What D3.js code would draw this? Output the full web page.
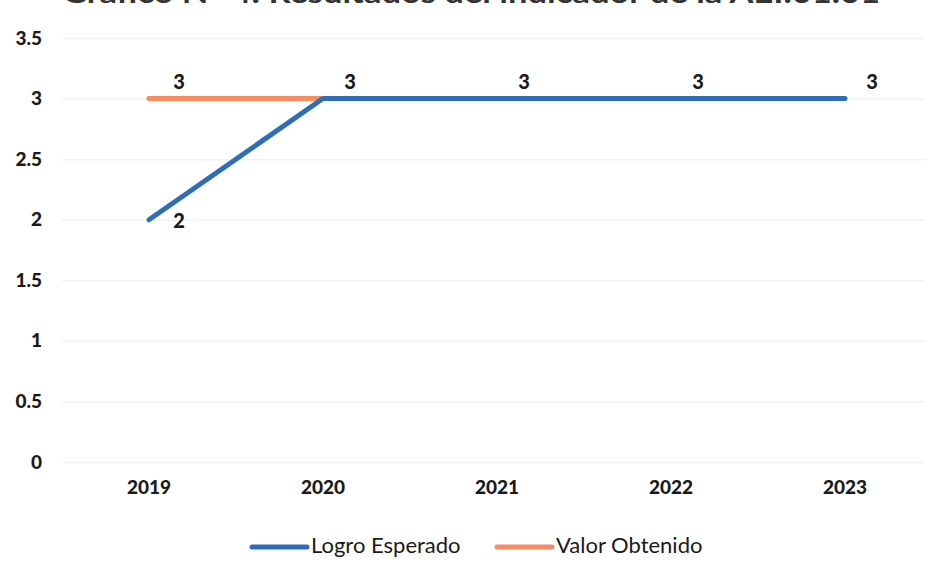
<!DOCTYPE html>
<html><head><meta charset="utf-8">
<script src="https://cdn.jsdelivr.net/npm/d3@7"></script>
<style>body{margin:0;background:#fff}svg{display:block}</style>
</head><body>
<svg id="c" width="945" height="562"></svg>
<script>
const title = "Gráfico N° 4: Resultados del indicador de la AEI.01.01";
const years = ["2019","2020","2021","2022","2023"];
const logroEsperado = [2,3,3,3,3];
const valorObtenido = [3,3,null,null,null];
const yTicks = [0,0.5,1,1.5,2,2.5,3,3.5];
const seriesNames = ["Logro Esperado","Valor Obtenido"];
const colors = ["#2F6DB9","#F58C62"];

const svg = d3.select("#c");
const x = d3.scaleBand().domain(years).range([62,932]);
const y = d3.scaleLinear().domain([0,3.5]).range([462,38]);
const cx = d => x(d) + x.bandwidth()/2;

svg.append("text").attr("x",62).attr("y",3)
  .attr("font-family","Lato").attr("font-weight","bold").attr("font-size",28)
  .attr("textLength",818).attr("lengthAdjust","spacingAndGlyphs")
  .attr("fill","#333").text(title);

const yAxis = d3.axisLeft(y).tickValues(yTicks).tickSize(-(925-62)).tickFormat(d=>d);
const gy = svg.append("g").attr("transform","translate(62,0)").call(yAxis);
gy.select(".domain").remove();
gy.selectAll(".tick line").attr("stroke","#f2f2f2").attr("stroke-width",1.5);
gy.selectAll(".tick text").attr("x",-20).attr("font-family","Lato").attr("font-weight",900)
  .attr("font-size",19).attr("fill","#1a1a1a");

const xAxis = d3.axisBottom(x).tickSize(0);
const gx = svg.append("g").attr("transform","translate(0,470)").call(xAxis);
gx.select(".domain").remove();
gx.selectAll(".tick text").attr("dy","1.1em").attr("font-family","Lato").attr("font-weight",900)
  .attr("font-size",19).attr("fill","#1a1a1a");

const line = d3.line().defined(d=>d.v!=null).x(d=>cx(d.k)).y(d=>y(d.v));
const mk = arr => years.map((k,i)=>({k, v:arr[i]}));
svg.append("path").datum(mk(valorObtenido)).attr("d",line).attr("fill","none")
  .attr("stroke",colors[1]).attr("stroke-width",5).attr("stroke-linecap","round");
svg.append("path").datum(mk(logroEsperado)).attr("d",line).attr("fill","none")
  .attr("stroke",colors[0]).attr("stroke-width",5).attr("stroke-linecap","round").attr("stroke-linejoin","round");

const lab = svg.append("g").attr("font-family","Lato").attr("font-weight",900)
  .attr("font-size",20).attr("fill","#1a1a1a").attr("text-anchor","middle");
mk(logroEsperado).forEach(d=>{
  const below = d.v < 3;
  lab.append("text").attr("x",cx(d.k)+(below?30:27)).attr("y",y(d.v)+(below?3:-15))
    .attr("dominant-baseline","middle").text(d.v);
});
mk(valorObtenido).filter(d=>d.v!=null).slice(0,1).forEach(d=>{
  lab.append("text").attr("x",cx(d.k)+30).attr("y",y(d.v)-15)
    .attr("dominant-baseline","middle").text(d.v);
});

const leg = svg.append("g");
const legX = [252,497];
seriesNames.forEach((n,i)=>{
  leg.append("line").attr("x1",legX[i]).attr("x2",legX[i]+55).attr("y1",547).attr("y2",547)
    .attr("stroke",colors[i]).attr("stroke-width",5).attr("stroke-linecap","round");
  leg.append("text").attr("x",legX[i]+59).attr("y",547).attr("dominant-baseline","middle")
    .attr("font-family","Lato").attr("font-size",22).attr("fill","#1a1a1a").text(n);
});
</script>
</body></html>
